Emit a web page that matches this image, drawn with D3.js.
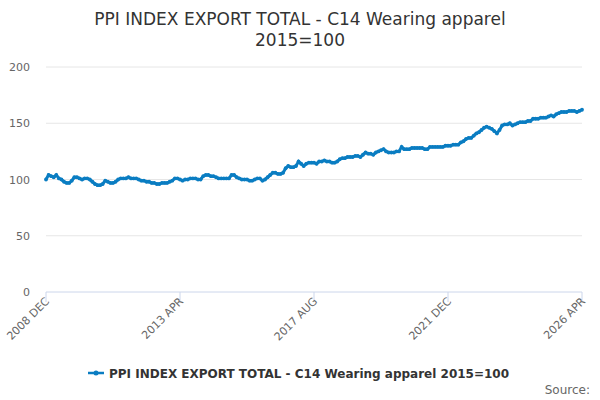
<!DOCTYPE html>
<html><head><meta charset="utf-8">
<script src="https://cdn.jsdelivr.net/npm/d3@7"></script>
<style>body{margin:0;background:#fff;font-family:"DejaVu Sans",sans-serif}</style>
</head><body><svg id="c" width="600" height="400"></svg>
<script>
const startYear = 2008, startMonth = 11; // Dec 2008
const values2008 = [100];
const values2009 = [104,103,102,104,101,100,98,97,97,99,102,102];
const values2010 = [101,100,101,101,100,98,96,95,95,96,99,98];
const values2011 = [97,97,98,100,101,101,101,102,101,101,101,100];
const values2012 = [99,99,98,98,97,97,96,96,97,97,97,98];
const values2013 = [99,101,101,100,99,100,100,101,101,101,100,100];
const values2014 = [103,104,104,103,103,102,101,101,101,101,101,104];
const values2015 = [104,102,101,100,100,100,99,99,100,101,101,99];
const values2016 = [100,102,104,106,106,105,105,106,110,112,111,111];
const values2017 = [112,116,114,112,114,115,115,115,114,116,116,117];
const values2018 = [116,116,115,115,116,118,119,119,120,120,120,121];
const values2019 = [121,120,122,124,123,123,122,124,125,126,127,125];
const values2020 = [124,124,124,125,125,129,127,127,127,128,128,128];
const values2021 = [128,128,127,127,129,129,129,129,129,129,130,130];
const values2022 = [130,131,131,131,133,134,136,137,137,139,141,142];
const values2023 = [144,146,147,146,145,143,141,144,148,149,149,150];
const values2024 = [148,149,150,151,151,151,152,152,154,154,154,155];
const values2025 = [155,155,156,157,156,158,159,160,160,160,161,161];
const values2026 = [161,160,161,162];
const tickLabels = ["2008 DEC","2013 APR","2017 AUG","2021 DEC","2026 APR"];
const yTicks = [0,50,100,150,200];
const seriesName = "PPI INDEX EXPORT TOTAL - C14 Wearing apparel 2015=100";

const values = [].concat(values2008,values2009,values2010,values2011,values2012,values2013,
  values2014,values2015,values2016,values2017,values2018,values2019,values2020,values2021,
  values2022,values2023,values2024,values2025,values2026);

const svg = d3.select("#c");
const x = d3.scaleLinear().domain([0, values.length - 1]).range([46, 582]);
const y = d3.scaleLinear().domain([0, 200]).range([292, 67]);

svg.append("text").attr("x", 300).attr("y", 25).attr("text-anchor", "middle")
  .attr("font-size", 17).attr("fill", "#333").text("PPI INDEX EXPORT TOTAL - C14 Wearing apparel");
svg.append("text").attr("x", 300).attr("y", 46).attr("text-anchor", "middle")
  .attr("font-size", 17).attr("fill", "#333").text("2015=100");

svg.append("g").selectAll("line").data(yTicks.filter(d => d > 0)).join("line")
  .attr("x1", 46).attr("x2", 582).attr("y1", y).attr("y2", y).attr("stroke", "#e6e6e6");
svg.append("g").selectAll("text").data(yTicks).join("text")
  .attr("x", 30).attr("y", d => y(d) + 4).attr("text-anchor", "end")
  .attr("font-size", 11).attr("fill", "#666").text(d => d);

svg.append("line").attr("x1", 46).attr("x2", 582).attr("y1", 292).attr("y2", 292).attr("stroke", "#ccd6eb");
const tickIdx = tickLabels.map((d, i) => i * 52);
svg.append("g").selectAll("line").data(tickIdx).join("line")
  .attr("x1", x).attr("x2", x).attr("y1", 292).attr("y2", 302).attr("stroke", "#ccd6eb");
svg.append("g").selectAll("text").data(tickLabels).join("text")
  .attr("transform", (d, i) => `translate(${x(tickIdx[i]) + 4},${302}) rotate(-45)`)
  .attr("text-anchor", "end").attr("font-size", 11).attr("fill", "#666").text(d => d);

const line = d3.line().x((d, i) => x(i)).y(d => y(d));
svg.append("path").datum(values).attr("d", line).attr("fill", "none")
  .attr("stroke", "#0a7dc2").attr("stroke-width", 3);
svg.append("g").selectAll("circle").data(values).join("circle")
  .attr("cx", (d, i) => x(i)).attr("cy", d => y(d)).attr("r", 1.9).attr("fill", "#0a7dc2");

svg.append("line").attr("x1", 88).attr("x2", 104).attr("y1", 373).attr("y2", 373)
  .attr("stroke", "#0a7dc2").attr("stroke-width", 2.5);
svg.append("circle").attr("cx", 96).attr("cy", 373).attr("r", 2.5).attr("fill", "#0a7dc2");
svg.append("text").attr("x", 109).attr("y", 378).attr("font-size", 12).attr("font-weight", "bold")
  .attr("fill", "#333").text(seriesName);
svg.append("text").attr("x", 590).attr("y", 394).attr("text-anchor", "end")
  .attr("font-size", 12).attr("fill", "#666").text("Source:");
</script></body></html>
